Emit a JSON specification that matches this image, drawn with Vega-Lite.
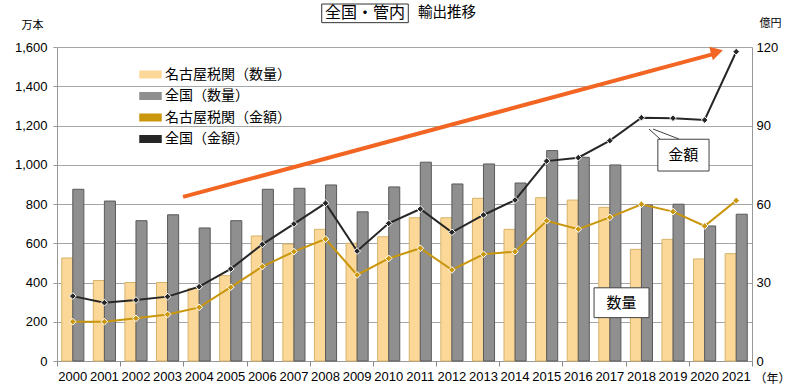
{
  "$schema": "https://vega.github.io/schema/vega-lite/v6.json",
  "width": 695,
  "height": 314,
  "autosize": {"type": "none"},
  "padding": {"left": 57, "top": 47, "right": 48, "bottom": 28},
  "background": "white",
  "config": {"view": {"stroke": null}},
  "data": {"values": [
    {"year": "2000", "名古屋税関（数量）": 525, "全国（数量）": 875, "名古屋税関（金額）": 15.0, "全国（金額）": 24.8},
    {"year": "2001", "名古屋税関（数量）": 410, "全国（数量）": 815, "名古屋税関（金額）": 15.0, "全国（金額）": 22.3},
    {"year": "2002", "名古屋税関（数量）": 400, "全国（数量）": 715, "名古屋税関（金額）": 16.3, "全国（金額）": 23.3},
    {"year": "2003", "名古屋税関（数量）": 400, "全国（数量）": 745, "名古屋税関（金額）": 17.8, "全国（金額）": 24.6},
    {"year": "2004", "名古屋税関（数量）": 370, "全国（数量）": 678, "名古屋税関（金額）": 20.5, "全国（金額）": 28.4},
    {"year": "2005", "名古屋税関（数量）": 435, "全国（数量）": 715, "名古屋税関（金額）": 28.2, "全国（金額）": 35.2},
    {"year": "2006", "名古屋税関（数量）": 637, "全国（数量）": 875, "名古屋税関（金額）": 36.1, "全国（金額）": 44.6},
    {"year": "2007", "名古屋税関（数量）": 596, "全国（数量）": 880, "名古屋税関（金額）": 41.8, "全国（金額）": 52.4},
    {"year": "2008", "名古屋税関（数量）": 671, "全国（数量）": 897, "名古屋税関（金額）": 46.6, "全国（金額）": 60.3},
    {"year": "2009", "名古屋税関（数量）": 600, "全国（数量）": 760, "名古屋税関（金額）": 32.9, "全国（金額）": 42.0},
    {"year": "2010", "名古屋税関（数量）": 633, "全国（数量）": 887, "名古屋税関（金額）": 39.2, "全国（金額）": 52.6},
    {"year": "2011", "名古屋税関（数量）": 730, "全国（数量）": 1013, "名古屋税関（金額）": 43.1, "全国（金額）": 58.1},
    {"year": "2012", "名古屋税関（数量）": 730, "全国（数量）": 902, "名古屋税関（金額）": 34.8, "全国（金額）": 49.2},
    {"year": "2013", "名古屋税関（数量）": 829, "全国（数量）": 1004, "名古屋税関（金額）": 40.8, "全国（金額）": 55.8},
    {"year": "2014", "名古屋税関（数量）": 671, "全国（数量）": 907, "名古屋税関（金額）": 41.8, "全国（金額）": 61.5},
    {"year": "2015", "名古屋税関（数量）": 832, "全国（数量）": 1072, "名古屋税関（金額）": 53.6, "全国（金額）": 76.4},
    {"year": "2016", "名古屋税関（数量）": 820, "全国（数量）": 1038, "名古屋税関（金額）": 50.4, "全国（金額）": 77.7},
    {"year": "2017", "名古屋税関（数量）": 783, "全国（数量）": 999, "名古屋税関（金額）": 54.9, "全国（金額）": 84.2},
    {"year": "2018", "名古屋税関（数量）": 569, "全国（数量）": 795, "名古屋税関（金額）": 59.9, "全国（金額）": 93.0},
    {"year": "2019", "名古屋税関（数量）": 620, "全国（数量）": 799, "名古屋税関（金額）": 57.1, "全国（金額）": 92.8},
    {"year": "2020", "名古屋税関（数量）": 520, "全国（数量）": 688, "名古屋税関（金額）": 51.6, "全国（金額）": 92.1},
    {"year": "2021", "名古屋税関（数量）": 547, "全国（数量）": 748, "名古屋税関（金額）": 61.3, "全国（金額）": 118.2}
  ]},
  "resolve": {"scale": {"x": "independent", "y": "independent"}},
  "layer": [
    {
      "resolve": {"scale": {"y": "independent"}},
      "layer": [
        {
          "transform": [{"fold": ["名古屋税関（数量）", "全国（数量）"], "as": ["series", "value"]}],
          "mark": {"type": "bar", "strokeWidth": 1},
          "encoding": {
            "x": {"field": "year", "type": "ordinal",
              "scale": {"type": "band", "paddingInner": 0.3, "paddingOuter": 0.15},
              "axis": {"title": "（年）", "titleX": 715, "titleY": 17, "titleFont": "Noto Sans CJK JP", "titleFontSize": 12, "titleFontWeight": "normal", "titleColor": "#000", "titleAngle": 0, "titleAlign": "center", "titleBaseline": "middle",
                "labelAngle": 0, "labelFont": "Liberation Sans", "labelFontSize": 13, "labelColor": "#000", "labelPadding": 9, "ticks": false, "domainColor": "#999", "grid": false}},
            "xOffset": {"field": "series", "type": "nominal", "scale": {"domain": ["名古屋税関（数量）", "全国（数量）"], "paddingInner": 0, "paddingOuter": 0}},
            "y": {"field": "value", "type": "quantitative",
              "scale": {"domain": [0, 1600], "nice": false},
              "axis": {"orient": "left", "values": [0, 200, 400, 600, 800, 1000, 1200, 1400, 1600], "format": ",.0f", "title": "万本", "titleX": -25, "titleY": -22, "titleAngle": 0, "titleAlign": "center", "titleBaseline": "middle", "titleFont": "Noto Sans CJK JP", "titleFontSize": 11, "titleFontWeight": "normal", "titleColor": "#000",
                "labelFont": "Liberation Sans", "labelFontSize": 13, "labelColor": "#000", "labelPadding": 6, "tickSize": 4, "tickColor": "#999", "domainColor": "#999", "grid": true, "gridColor": "#A6A6A6"}},
            "color": {"field": "series", "type": "nominal",
              "scale": {"domain": ["名古屋税関（数量）", "全国（数量）", "名古屋税関（金額）", "全国（金額）"], "range": ["#FCD898", "#8F8F8F", "#C9960C", "#262626"]},
              "legend": {"title": null, "orient": "none", "legendX": 82, "legendY": 16, "symbolSize": 441, "symbolType": "M-1,-0.3H1V0.3H-1Z", "labelFont": "Noto Sans CJK JP", "labelFontSize": 14, "labelColor": "#000", "rowPadding": 2.5, "labelOffset": 3}},
            "stroke": {"condition": {"test": "datum.series == '全国（数量）'", "value": "#5A5A5A"}, "value": "#D6B36A"}
          }
        },
        {
          "transform": [{"fold": ["名古屋税関（金額）", "全国（金額）"], "as": ["series", "value"]}],
          "layer": [
            {
              "mark": {"type": "line", "strokeWidth": 2},
              "encoding": {
                "x": {"field": "year", "type": "ordinal"},
                "y": {"field": "value", "type": "quantitative",
                  "scale": {"domain": [0, 120], "nice": false},
                  "axis": {"orient": "right", "values": [0, 15, 30, 45, 60, 75, 90, 105, 120], "title": "億円", "titleX": 18, "titleY": -24, "titleAngle": 0, "titleAlign": "center", "titleBaseline": "middle", "titleFont": "Noto Sans CJK JP", "titleFontSize": 11, "titleFontWeight": "normal", "titleColor": "#000",
                    "labelFont": "Liberation Sans", "labelFontSize": 13, "labelColor": "#000", "labelPadding": 4, "ticks": false, "domainColor": "#999", "grid": false}},
                "color": {"field": "series", "type": "nominal"}
              }
            },
            {
              "mark": {"type": "point", "shape": "diamond", "filled": true, "size": 45, "stroke": "white", "strokeWidth": 1, "opacity": 1},
              "encoding": {
                "x": {"field": "year", "type": "ordinal"},
                "y": {"field": "value", "type": "quantitative"},
                "color": {"field": "series", "type": "nominal"}
              }
            }
          ]
        }
      ]
    },
    {
      "data": {"values": [{}]},
      "layer": [
        {
          "mark": {"type": "rule", "stroke": "#F26522", "strokeWidth": 4},
          "encoding": {
            "x": {"datum": 2003.49, "type": "quantitative", "scale": {"domain": [1999.5, 2021.5], "nice": false, "zero": false},
              "axis": {"orient": "bottom", "values": [1999.5, 2000.5, 2001.5, 2002.5, 2003.5, 2004.5, 2005.5, 2006.5, 2007.5, 2008.5, 2009.5, 2010.5, 2011.5, 2012.5, 2013.5, 2014.5, 2015.5, 2016.5, 2017.5, 2018.5, 2019.5, 2020.5, 2021.5], "labels": false, "domain": false, "grid": false, "ticks": true, "tickSize": 5, "tickColor": "#888", "tickWidth": 1, "title": null}},
            "y": {"datum": 836, "type": "quantitative", "scale": {"domain": [0, 1600], "nice": false}, "axis": null},
            "x2": {"datum": 2020.27},
            "y2": {"datum": 1564}
          }
        },
        {
          "mark": {"type": "point", "shape": "triangle-up", "filled": true, "fill": "#F26522", "size": 200, "angle": 74.9, "opacity": 1},
          "encoding": {
            "x": {"datum": 2020.39, "type": "quantitative"},
            "y": {"datum": 1575, "type": "quantitative"}
          }
        },
        {
          "mark": {"type": "rule", "stroke": "#404040", "strokeWidth": 1},
          "encoding": {
            "x": {"datum": 2018.24, "type": "quantitative"},
            "y": {"datum": 1182, "type": "quantitative"},
            "x2": {"datum": 2018.59},
            "y2": {"datum": 1131}
          }
        },
        {
          "mark": {"type": "rule", "stroke": "#404040", "strokeWidth": 1},
          "encoding": {
            "x": {"datum": 2018.37, "type": "quantitative"},
            "y": {"datum": 1182, "type": "quantitative"},
            "x2": {"datum": 2019.19},
            "y2": {"datum": 1131}
          }
        },
        {
          "mark": {"type": "rect", "fill": "white", "stroke": "#404040", "strokeWidth": 1},
          "encoding": {
            "x": {"datum": 2018.52, "type": "quantitative"},
            "x2": {"datum": 2020.14},
            "y": {"datum": 1130, "type": "quantitative"},
            "y2": {"datum": 968}
          }
        },
        {
          "mark": {"type": "text", "text": "金額", "font": "Noto Sans CJK JP", "fontSize": 15, "color": "#000", "align": "center", "baseline": "middle"},
          "encoding": {
            "x": {"datum": 2019.32, "type": "quantitative"},
            "y": {"datum": 1050, "type": "quantitative"}
          }
        },
        {
          "mark": {"type": "rect", "fill": "white", "stroke": "#404040", "strokeWidth": 1},
          "encoding": {
            "x": {"datum": 2016.5, "type": "quantitative"},
            "x2": {"datum": 2018.24},
            "y": {"datum": 373, "type": "quantitative"},
            "y2": {"datum": 221}
          }
        },
        {
          "mark": {"type": "text", "text": "数量", "font": "Noto Sans CJK JP", "fontSize": 15, "color": "#000", "align": "center", "baseline": "middle"},
          "encoding": {
            "x": {"datum": 2017.37, "type": "quantitative"},
            "y": {"datum": 297, "type": "quantitative"}
          }
        },
        {
          "mark": {"type": "rect", "fill": "white", "stroke": "#333", "strokeWidth": 1},
          "encoding": {
            "x": {"datum": 2007.88, "type": "quantitative"},
            "x2": {"datum": 2010.62},
            "y": {"datum": 1819, "type": "quantitative"},
            "y2": {"datum": 1724}
          }
        },
        {
          "mark": {"type": "text", "text": "全国・管内", "font": "Noto Sans CJK JP", "fontSize": 16, "color": "#000", "align": "center", "baseline": "middle"},
          "encoding": {
            "x": {"datum": 2009.25, "type": "quantitative"},
            "y": {"datum": 1771, "type": "quantitative"}
          }
        },
        {
          "mark": {"type": "text", "text": "輸出推移", "font": "Noto Sans CJK JP", "fontSize": 14.5, "color": "#000", "align": "left", "baseline": "middle"},
          "encoding": {
            "x": {"datum": 2010.93, "type": "quantitative"},
            "y": {"datum": 1771, "type": "quantitative"}
          }
        }
      ]
    }
  ]
}
